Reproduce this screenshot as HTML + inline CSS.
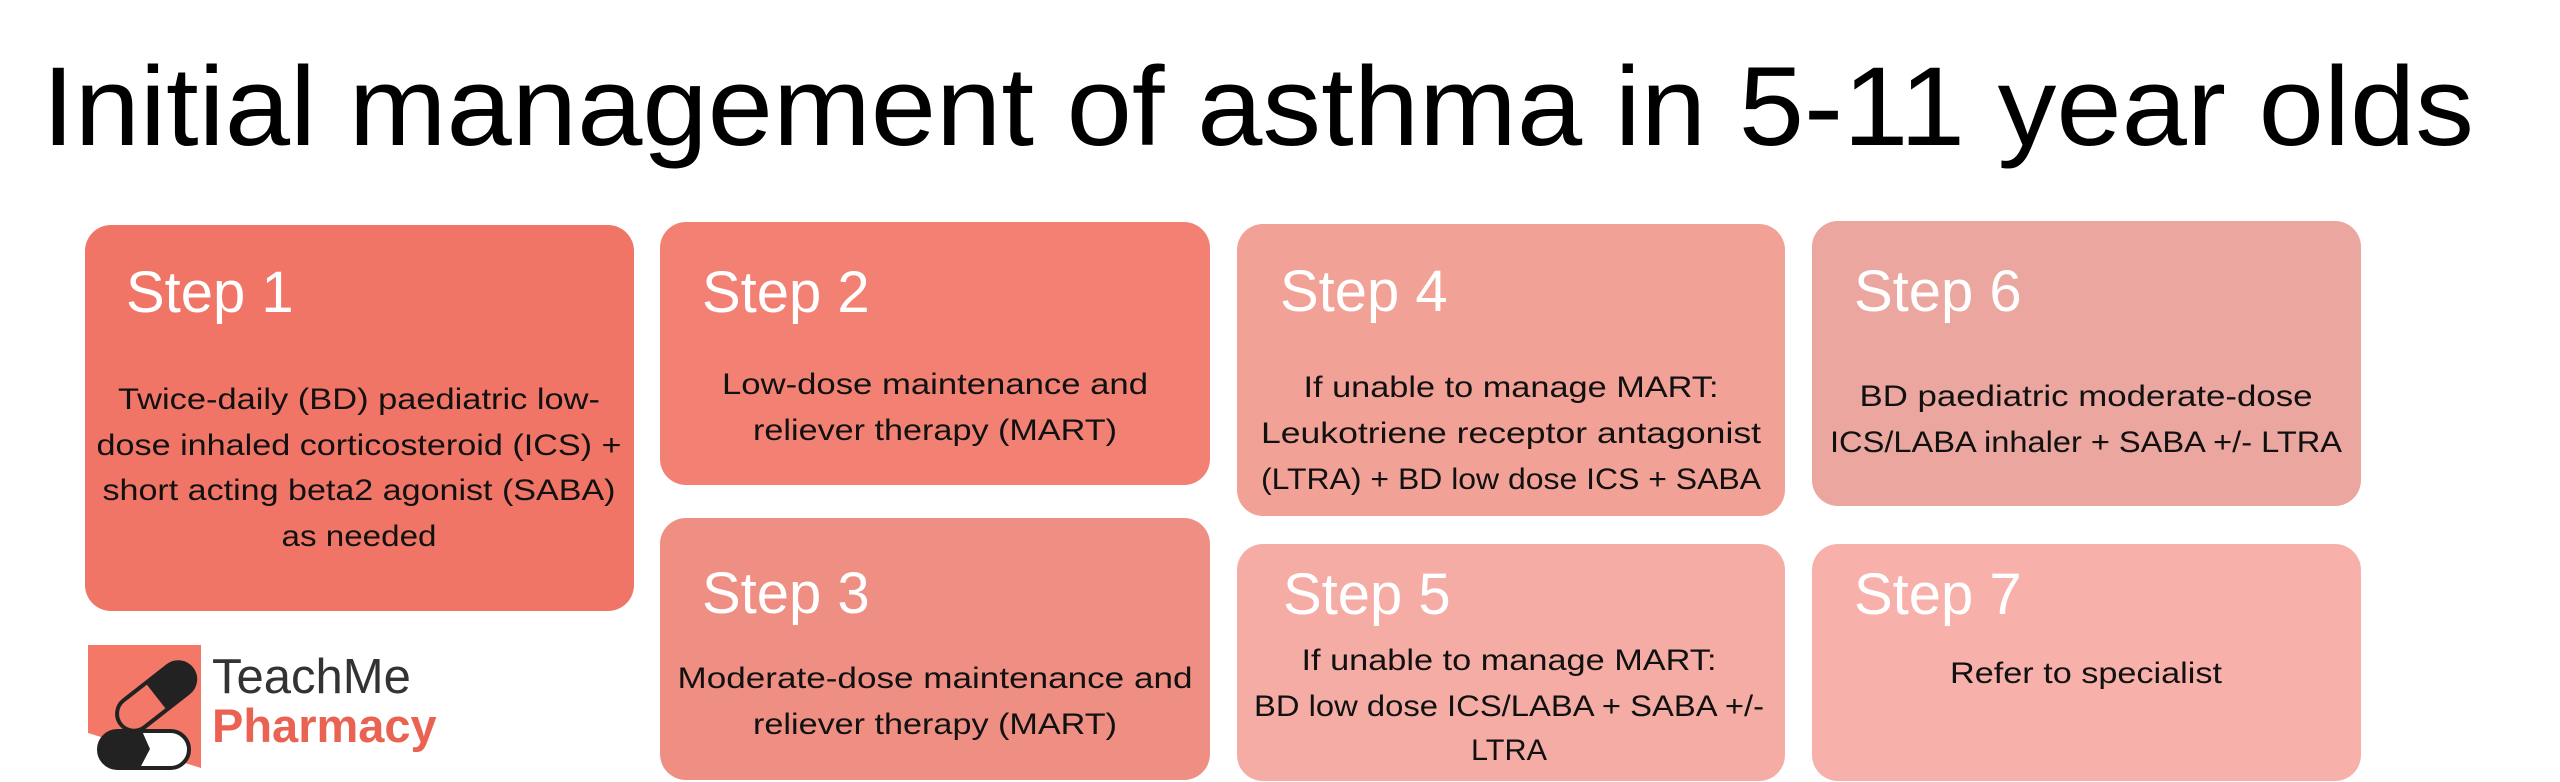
<!DOCTYPE html>
<html><head><meta charset="utf-8"><style>
html,body{margin:0;padding:0;background:#fff;width:2560px;height:782px;overflow:hidden}
svg{display:block}
text{font-family:"Liberation Sans",sans-serif}
.s{fill:#fff;font-size:58px}
.b{fill:#111;font-size:30px;text-anchor:middle}
</style></head><body>
<svg width="2560" height="782" viewBox="0 0 2560 782">
<text x="42" y="145" font-size="112" fill="#000" textLength="2432" lengthAdjust="spacingAndGlyphs">Initial management of asthma in 5-11 year olds</text>

<rect x="85" y="225" width="549" height="386" rx="26" fill="#f17566"/>
<rect x="660" y="222" width="550" height="263" rx="26" fill="#f28174"/>
<rect x="660" y="518" width="550" height="262" rx="26" fill="#ef8e82"/>
<rect x="1237" y="224" width="548" height="292" rx="26" fill="#f2a196"/>
<rect x="1812" y="221" width="549" height="285" rx="26" fill="#eaa69f"/>
<rect x="1237" y="544" width="548" height="237" rx="26" fill="#f4aca4"/>
<rect x="1812" y="544" width="549" height="237" rx="26" fill="#f7b1aa"/>

<text class="s" x="126" y="312">Step 1</text>
<text class="s" x="702" y="312">Step 2</text>
<text class="s" x="702" y="613">Step 3</text>
<text class="s" x="1280" y="311">Step 4</text>
<text class="s" x="1854" y="311">Step 6</text>
<text class="s" x="1283" y="614">Step 5</text>
<text class="s" x="1854" y="614">Step 7</text>

<text class="b" x="359" y="409" textLength="482" lengthAdjust="spacingAndGlyphs">Twice-daily (BD) paediatric low-</text>
<text class="b" x="359" y="455" textLength="525" lengthAdjust="spacingAndGlyphs">dose inhaled corticosteroid (ICS) +</text>
<text class="b" x="359" y="500" textLength="513" lengthAdjust="spacingAndGlyphs">short acting beta2 agonist (SABA)</text>
<text class="b" x="359" y="546" textLength="155" lengthAdjust="spacingAndGlyphs">as needed</text>

<text class="b" x="935" y="394" textLength="426" lengthAdjust="spacingAndGlyphs">Low-dose maintenance and</text>
<text class="b" x="935" y="440" textLength="364" lengthAdjust="spacingAndGlyphs">reliever therapy (MART)</text>

<text class="b" x="935" y="688" textLength="515" lengthAdjust="spacingAndGlyphs">Moderate-dose maintenance and</text>
<text class="b" x="935" y="734" textLength="364" lengthAdjust="spacingAndGlyphs">reliever therapy (MART)</text>

<text class="b" x="1511" y="397" textLength="415" lengthAdjust="spacingAndGlyphs">If unable to manage MART:</text>
<text class="b" x="1511" y="443" textLength="500" lengthAdjust="spacingAndGlyphs">Leukotriene receptor antagonist</text>
<text class="b" x="1511" y="489" textLength="500" lengthAdjust="spacingAndGlyphs">(LTRA) + BD low dose ICS + SABA</text>

<text class="b" x="2086" y="406" textLength="453" lengthAdjust="spacingAndGlyphs">BD paediatric moderate-dose</text>
<text class="b" x="2086" y="452" textLength="512" lengthAdjust="spacingAndGlyphs">ICS/LABA inhaler + SABA +/- LTRA</text>

<text class="b" x="1509" y="670" textLength="415" lengthAdjust="spacingAndGlyphs">If unable to manage MART:</text>
<text class="b" x="1509" y="716" textLength="510" lengthAdjust="spacingAndGlyphs">BD low dose ICS/LABA + SABA +/-</text>
<text class="b" x="1509" y="760" textLength="76" lengthAdjust="spacingAndGlyphs">LTRA</text>

<text class="b" x="2086" y="683" textLength="272" lengthAdjust="spacingAndGlyphs">Refer to specialist</text>

<!-- logo -->
<polygon points="88,645 201,645 201,768 88,733" fill="#f47868"/>
<g transform="rotate(-38 150 700)">
<rect x="112" y="684" width="90" height="34" rx="17" fill="none" stroke="#222" stroke-width="4"/>
<path d="M157,684 h28 a17,17 0 0 1 0,34 h-28 z" fill="#222"/>
</g>
<rect x="99" y="731" width="90" height="37" rx="18.5" fill="#fff" stroke="#222" stroke-width="4"/>
<path d="M117,731 h25 l8,18 l-10,19 h-23 a18.5,18.5 0 0 1 0,-37 z" fill="#222"/>
<text x="212" y="693" font-size="49" fill="#333">TeachMe</text>
<text x="212" y="742" font-size="47" font-weight="bold" fill="#ea6352">Pharmacy</text>
</svg>
</body></html>
